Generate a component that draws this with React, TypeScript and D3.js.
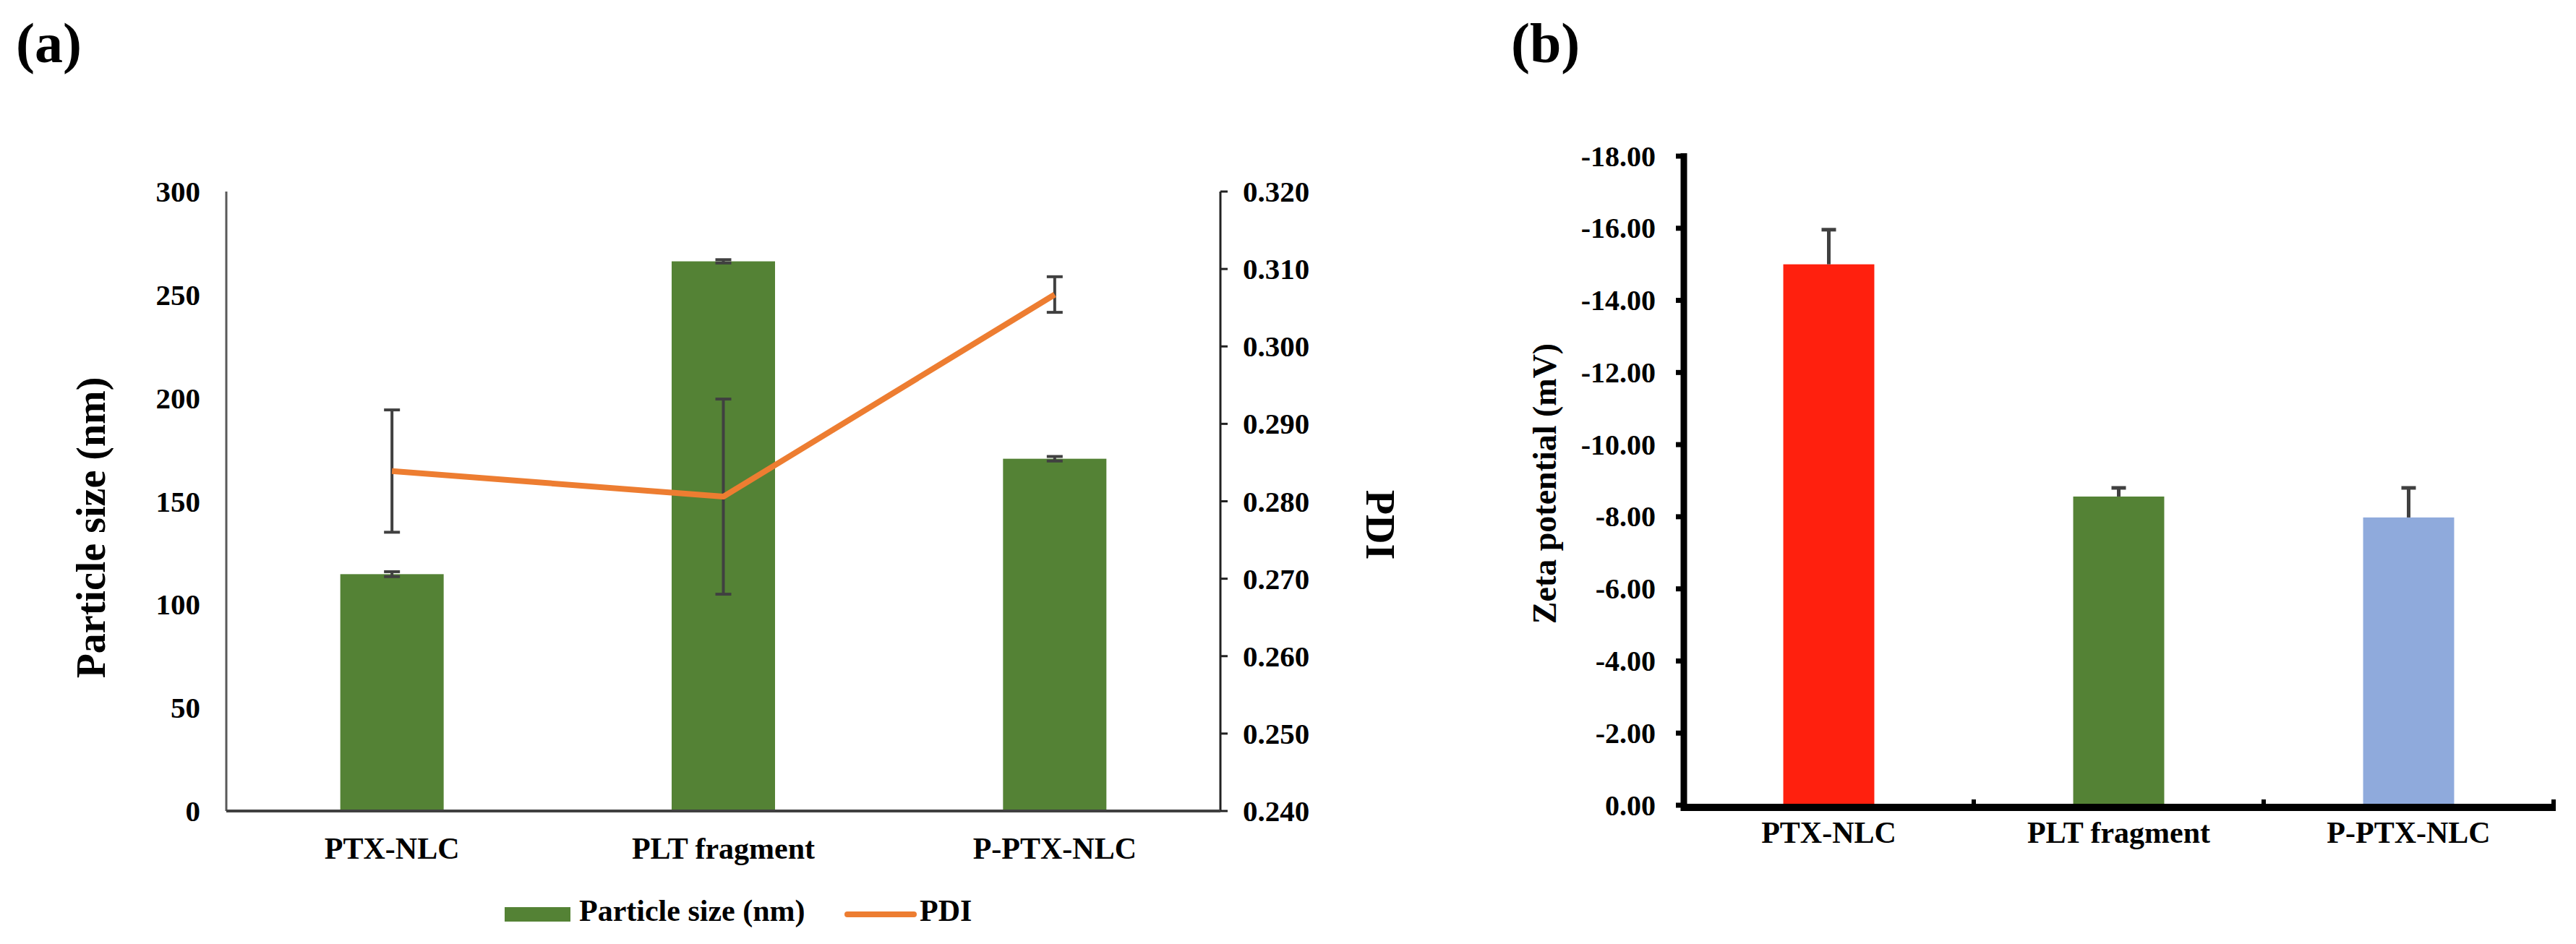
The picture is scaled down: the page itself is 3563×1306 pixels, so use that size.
import React from "react";
import * as d3 from "d3";

// formulations (shared by both panels)
const categories = ["PTX-NLC", "PLT fragment", "P-PTX-NLC"];

// panel (a)
const particleSize = [114.7, 266.2, 170.6];
const particleSizeSd = [1.2, 0.8, 1.1];
const pdi = [0.2839, 0.2806, 0.3067];
const pdiSd = [0.0079, 0.0126, 0.0023];
const sizeTicks = [0, 50, 100, 150, 200, 250, 300];
const pdiTicks = [0.24, 0.25, 0.26, 0.27, 0.28, 0.29, 0.3, 0.31, 0.32];

// panel (b)
const zeta = [-15.0, -8.56, -7.98];
const zetaSd = [0.96, 0.24, 0.82];
const zetaColors = ["#FF200E", "#548235", "#8FAADC"];
const zetaTicks = [0, -2, -4, -6, -8, -10, -12, -14, -16, -18];

const FONT = "'Liberation Serif', 'Times New Roman', serif";
const GREEN = "#548235";
const ORANGE = "#ED7D31";
const ERR = "#404040";

const W = 3563;
const H = 1306;

// excel style: plain hyphen for negatives
const fmt2 = d3.formatLocale({ decimal: ".", thousands: ",", grouping: [3], currency: ["", ""], minus: "-" }).format(".2f");

const PanelA: React.FC = () => {
    const left = 313;
    const right = 1688;
    const bottom = 1122;
    const top = 265;

    const x = d3.scaleBand().domain(categories).range([left, right]);
    const y = d3.scaleLinear().domain([0, 300]).range([bottom, top]);
    const y2 = d3.scaleLinear().domain([0.24, 0.32]).range([bottom, top]);
    const barW = x.bandwidth() * 0.312;
    const cx = (c: string) => (x(c) || 0) + x.bandwidth() / 2;

    const line = d3
        .line<number>()
        .x((_, i) => cx(categories[i]))
        .y((d) => y2(d));

    const cap = 11;

    return (
        <g fontFamily={FONT} fontWeight="bold" fill="#000">
            <text x={22} y={86} fontSize={78}>(a)</text>

            {/* bars */}
            {categories.map((c, i) => (
                <rect
                    key={c}
                    x={cx(c) - barW / 2}
                    y={y(particleSize[i])}
                    width={barW}
                    height={bottom - y(particleSize[i])}
                    fill={GREEN}
                />
            ))}
            {/* bar error bars */}
            {categories.map((c, i) => {
                const y1 = y(particleSize[i] + particleSizeSd[i]);
                const y0 = y(particleSize[i] - particleSizeSd[i]);
                return (
                    <g key={c} stroke={ERR} strokeWidth={4}>
                        <line x1={cx(c)} x2={cx(c)} y1={y1} y2={y0} />
                        <line x1={cx(c) - cap} x2={cx(c) + cap} y1={y1} y2={y1} />
                        <line x1={cx(c) - cap} x2={cx(c) + cap} y1={y0} y2={y0} />
                    </g>
                );
            })}

            {/* axes */}
            <line x1={left} x2={left} y1={top} y2={bottom} stroke="#595959" strokeWidth={3} />
            <line x1={right} x2={right} y1={top} y2={bottom} stroke="#222" strokeWidth={3} />
            {pdiTicks.map((t) => (
                <line key={t} x1={right} x2={right + 10} y1={y2(t)} y2={y2(t)} stroke="#222" strokeWidth={3} />
            ))}
            <line x1={left} x2={right} y1={bottom} y2={bottom} stroke={ERR} strokeWidth={4} />

            {/* PDI error bars + line */}
            {categories.map((c, i) => {
                const y1 = y2(pdi[i] + pdiSd[i]);
                const y0 = y2(pdi[i] - pdiSd[i]);
                return (
                    <g key={c} stroke={ERR} strokeWidth={4}>
                        <line x1={cx(c)} x2={cx(c)} y1={y1} y2={y0} />
                        <line x1={cx(c) - cap} x2={cx(c) + cap} y1={y1} y2={y1} />
                        <line x1={cx(c) - cap} x2={cx(c) + cap} y1={y0} y2={y0} />
                    </g>
                );
            })}
            <path d={line(pdi) || ""} fill="none" stroke={ORANGE} strokeWidth={8} strokeLinejoin="round" />

            {/* tick labels */}
            {sizeTicks.map((t) => (
                <text key={t} x={277} y={y(t)} fontSize={41} textAnchor="end" dominantBaseline="central">
                    {t}
                </text>
            ))}
            {pdiTicks.map((t) => (
                <text key={t} x={1719} y={y2(t)} fontSize={41} dominantBaseline="central">
                    {d3.format(".3f")(t)}
                </text>
            ))}
            {categories.map((c) => (
                <text key={c} x={cx(c)} y={1188} fontSize={42} textAnchor="middle">
                    {c}
                </text>
            ))}

            {/* axis titles */}
            <text transform="translate(145,730) rotate(-90)" fontSize={56} textAnchor="middle">
                Particle size (nm)
            </text>
            <text transform="translate(1890,726) rotate(90)" fontSize={56} textAnchor="middle">
                PDI
            </text>

            {/* legend */}
            <rect x={698} y={1255} width={91} height={20} fill={GREEN} />
            <text x={801} y={1274} fontSize={42}>Particle size (nm)</text>
            <line x1={1172} x2={1264} y1={1265} y2={1265} stroke={ORANGE} strokeWidth={8} strokeLinecap="round" />
            <text x={1272} y={1274} fontSize={42}>PDI</text>
        </g>
    );
};

const PanelB: React.FC = () => {
    const left = 2329;
    const right = 3532;
    const bottom = 1114;
    const top = 216;

    const x = d3.scaleBand().domain(categories).range([left, right]);
    const y = d3.scaleLinear().domain([0, -18]).range([bottom, top]);
    const barW = x.bandwidth() * 0.314;
    const cx = (c: string) => (x(c) || 0) + x.bandwidth() / 2;
    const cap = 10;

    return (
        <g fontFamily={FONT} fontWeight="bold" fill="#000">
            <text x={2090} y={86} fontSize={78}>(b)</text>

            {categories.map((c, i) => (
                <rect
                    key={c}
                    x={cx(c) - barW / 2}
                    y={y(zeta[i])}
                    width={barW}
                    height={bottom - y(zeta[i])}
                    fill={zetaColors[i]}
                />
            ))}
            {categories.map((c, i) => {
                const y1 = y(zeta[i] - zetaSd[i]);
                return (
                    <g key={c} stroke={ERR} strokeWidth={5}>
                        <line x1={cx(c)} x2={cx(c)} y1={y1} y2={y(zeta[i])} />
                        <line x1={cx(c) - cap} x2={cx(c) + cap} y1={y1} y2={y1} />
                    </g>
                );
            })}

            {/* axes */}
            <line x1={left} x2={left} y1={212} y2={bottom + 8} stroke="#000" strokeWidth={9} />
            {zetaTicks.map((t) => (
                <line key={t} x1={left - 11} x2={left} y1={y(t)} y2={y(t)} stroke="#000" strokeWidth={7} />
            ))}
            <line x1={left - 4} x2={right + 3} y1={bottom + 3} y2={bottom + 3} stroke="#000" strokeWidth={10} />
            {categories.map((c) => (
                <line
                    key={c}
                    x1={(x(c) || 0) + x.bandwidth()}
                    x2={(x(c) || 0) + x.bandwidth()}
                    y1={bottom - 8}
                    y2={bottom}
                    stroke="#000"
                    strokeWidth={6}
                />
            ))}

            {zetaTicks.map((t) => (
                <text key={t} x={2290} y={y(t)} fontSize={40} textAnchor="end" dominantBaseline="central">
                    {fmt2(t)}
                </text>
            ))}
            {categories.map((c) => (
                <text key={c} x={cx(c)} y={1166} fontSize={42} textAnchor="middle">
                    {c}
                </text>
            ))}
            <text transform="translate(2152,669) rotate(-90)" fontSize={46} textAnchor="middle">
                Zeta potential (mV)
            </text>
        </g>
    );
};

const App: React.FC = () => (
    <svg
        width={W}
        height={H}
        viewBox={`0 0 ${W} ${H}`}
        style={{ position: "absolute", left: 0, top: 0, background: "#fff" }}
    >
        <rect width={W} height={H} fill="#fff" />
        <PanelA />
        <PanelB />
    </svg>
);

export default App;
